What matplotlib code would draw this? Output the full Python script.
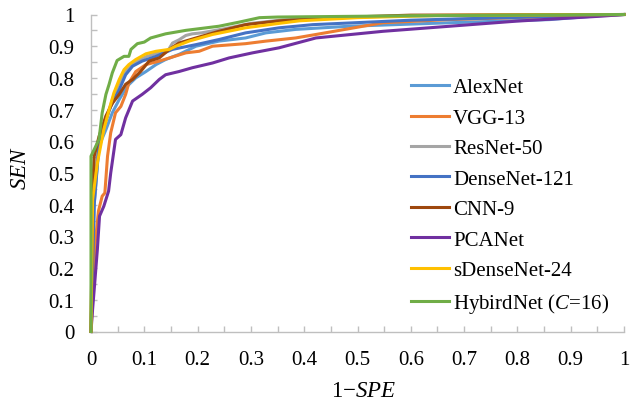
import matplotlib
matplotlib.use("Agg")
import matplotlib.pyplot as plt
from matplotlib.ticker import MultipleLocator, FuncFormatter

plt.rcParams['font.family'] = ['Liberation Serif', 'DejaVu Serif']
plt.rcParams['mathtext.fontset'] = 'custom'
plt.rcParams['mathtext.rm'] = 'Liberation Serif'
plt.rcParams['mathtext.it'] = 'Liberation Serif:italic'

labels = ["AlexNet", "VGG-13", "ResNet-50", "DenseNet-121", "CNN-9", "PCANet",
          "sDenseNet-24", "HybirdNet ($C$=16)"]
colors = ["#5B9BD5", "#ED7D31", "#A5A5A5", "#4472C4", "#9E480E", "#7030A0",
          "#FFC000", "#70AD47"]

alex_x = [0, 0.006, 0.015, 0.028, 0.04, 0.053, 0.068, 0.084, 0.103, 0.122, 0.14, 0.165, 0.197, 0.24, 0.29, 0.328, 0.384, 0.485, 0.673, 0.861, 0.96, 1.0]
alex_y = [0, 0.40, 0.585, 0.637, 0.69, 0.732, 0.774, 0.80, 0.82, 0.842, 0.858, 0.874, 0.90, 0.916, 0.926, 0.942, 0.953, 0.963, 0.974, 0.984, 0.997, 1.0]

vgg_x = [0, 0.008, 0.014, 0.021, 0.026, 0.031, 0.037, 0.046, 0.056, 0.065, 0.071, 0.084, 0.103, 0.128, 0.153, 0.178, 0.203, 0.228, 0.29, 0.328, 0.384, 0.422, 0.548, 0.673, 1.0]
vgg_y = [0, 0.28, 0.38, 0.427, 0.437, 0.553, 0.627, 0.69, 0.71, 0.748, 0.784, 0.82, 0.842, 0.853, 0.866, 0.879, 0.884, 0.90, 0.908, 0.916, 0.926, 0.937, 0.974, 0.984, 1.0]

res_x = [0, 0.004, 0.012, 0.024, 0.034, 0.043, 0.053, 0.062, 0.075, 0.09, 0.105, 0.125, 0.145, 0.153, 0.165, 0.178, 0.19, 0.207, 0.25, 0.30, 0.36, 0.45, 0.6, 1.0]
res_y = [0, 0.42, 0.55, 0.64, 0.70, 0.745, 0.785, 0.815, 0.84, 0.855, 0.868, 0.878, 0.888, 0.91, 0.92, 0.934, 0.939, 0.942, 0.955, 0.972, 0.983, 0.99, 0.996, 1.0]

dense_x = [0, 0.006, 0.015, 0.024, 0.037, 0.053, 0.065, 0.078, 0.096, 0.122, 0.153, 0.197, 0.24, 0.29, 0.353, 0.416, 0.6, 1.0]
dense_y = [0, 0.40, 0.596, 0.648, 0.71, 0.763, 0.81, 0.837, 0.853, 0.868, 0.89, 0.905, 0.921, 0.942, 0.958, 0.968, 0.982, 1.0]

cnn_x = [0, 0.003, 0.006, 0.015, 0.028, 0.04, 0.053, 0.065, 0.078, 0.093, 0.109, 0.128, 0.147, 0.165, 0.197, 0.24, 0.29, 0.353, 0.45, 0.6, 1.0]
cnn_y = [0, 0.45, 0.553, 0.615, 0.68, 0.72, 0.748, 0.78, 0.795, 0.82, 0.853, 0.863, 0.89, 0.91, 0.926, 0.947, 0.968, 0.98, 0.99, 0.998, 1.0]

pca_x = [0, 0.003, 0.006, 0.012, 0.016, 0.024, 0.033, 0.037, 0.046, 0.056, 0.065, 0.078, 0.096, 0.112, 0.128, 0.14, 0.165, 0.19, 0.228, 0.259, 0.303, 0.353, 0.422, 0.548, 0.673, 0.798, 0.96, 1.0]
pca_y = [0, 0.07, 0.132, 0.26, 0.364, 0.395, 0.443, 0.50, 0.606, 0.621, 0.674, 0.727, 0.748, 0.769, 0.795, 0.81, 0.82, 0.832, 0.847, 0.863, 0.879, 0.895, 0.926, 0.947, 0.963, 0.979, 0.995, 1.0]

sdense_x = [0, 0.003, 0.012, 0.024, 0.034, 0.043, 0.053, 0.062, 0.071, 0.084, 0.103, 0.122, 0.147, 0.159, 0.184, 0.228, 0.29, 0.353, 0.391, 0.5, 0.65, 1.0]
sdense_y = [0, 0.416, 0.532, 0.637, 0.70, 0.753, 0.795, 0.826, 0.842, 0.858, 0.876, 0.884, 0.89, 0.90, 0.916, 0.937, 0.958, 0.972, 0.98, 0.99, 0.997, 1.0]

hyb_x = [0, 0, 0.015, 0.021, 0.028, 0.034, 0.04, 0.049, 0.062, 0.071, 0.075, 0.087, 0.1, 0.112, 0.14, 0.178, 0.24, 0.278, 0.316, 0.35, 0.6, 1.0]
hyb_y = [0, 0.553, 0.606, 0.69, 0.748, 0.78, 0.816, 0.855, 0.868, 0.868, 0.89, 0.908, 0.913, 0.926, 0.939, 0.95, 0.963, 0.976, 0.99, 0.992, 0.996, 1.0]

series_x = [alex_x, vgg_x, res_x, dense_x, cnn_x, pca_x, sdense_x, hyb_x]
series_y = [alex_y, vgg_y, res_y, dense_y, cnn_y, pca_y, sdense_y, hyb_y]

fig = plt.figure(figsize=(6.37, 4.02), dpi=100)
ax = fig.add_axes([91/637, 69.5/402, 533/637, (332.5-15.5)/402])

for xs, ys, lab, c in zip(series_x, series_y, labels, colors):
    ax.plot(xs, ys, color=c, lw=2.2, label=lab, clip_on=False, solid_joinstyle='round')

ax.set_xlim(0, 1)
ax.set_ylim(0, 1)
gray = "#BFBFBF"
for s in ['top', 'right']:
    ax.spines[s].set_visible(False)
for s in ['left', 'bottom']:
    ax.spines[s].set_color(gray)
    ax.spines[s].set_linewidth(1.0)
    ax.spines[s].set_zorder(0)

fmt = FuncFormatter(lambda v, p: ('%g' % round(v, 2)))
ax.xaxis.set_major_locator(MultipleLocator(0.1))
ax.yaxis.set_major_locator(MultipleLocator(0.1))
ax.xaxis.set_minor_locator(MultipleLocator(0.05))
ax.yaxis.set_minor_locator(MultipleLocator(0.05))
ax.xaxis.set_major_formatter(fmt)
ax.yaxis.set_major_formatter(fmt)
ax.tick_params(which='both', direction='in', length=4.5, width=1, color=gray,
               labelsize=15, labelcolor='black')
ax.tick_params(axis='x', pad=13)
ax.tick_params(axis='y', pad=12)

ax.set_xlabel('1\u2212$\\mathit{SPE}$', fontsize=16.5)
ax.set_ylabel('$\\mathit{SEN}$', fontsize=16.5)
ax.xaxis.set_label_coords(0.512, -0.152)
ax.yaxis.set_label_coords(-0.112, 0.52)

leg = ax.legend(loc='upper left', bbox_to_anchor=(0.601, 0.80), frameon=False,
                fontsize=15, handlelength=1.8, handletextpad=0.2, labelspacing=0.52,
                borderpad=0, borderaxespad=0)

fig.savefig("out.png", dpi=100)
